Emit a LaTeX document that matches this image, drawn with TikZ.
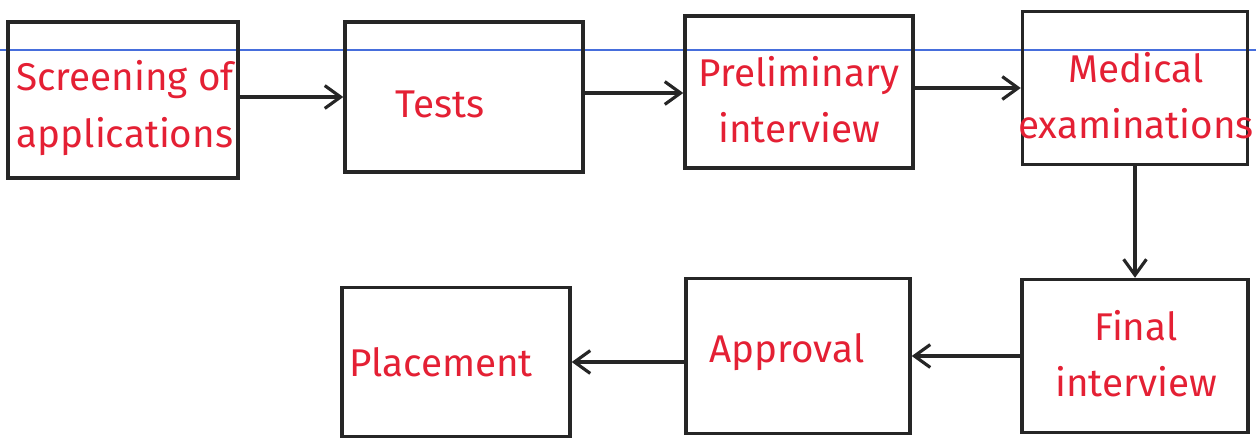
\documentclass[tikz,border=0pt]{standalone}
\usepackage{fontspec}
\setmainfont{Fira Sans}
\usetikzlibrary{arrows.meta}
\definecolor{ink}{RGB}{228,32,52}
\definecolor{rule}{RGB}{70,110,220}
\begin{document}
\begin{tikzpicture}[x=0.02cm,y=-0.02cm,
  stagebox/.style={draw=black!85,line width=2pt,inner sep=0pt},
  stagetext/.style={text=ink,align=center,inner sep=0pt,
    font=\fontsize{22}{32}\selectfont},
  flow/.style={draw=black!85,line width=1.8pt,-{Straight Barb[length=9pt,width=13pt,line width=1.8pt]}}]
\useasboundingbox (0,0) rectangle (1256,439);
% ruled line of the paper
\draw[rule,line width=0.8pt] (0,50) -- (1256,50);
% stages, top row
\node[stagebox,minimum width=4.6cm,minimum height=3.12cm] (screen) at (123,100) {};
\node[stagebox,minimum width=4.76cm,minimum height=3cm] (tests) at (464,97) {};
\node[stagebox,minimum width=4.56cm,minimum height=3.04cm] (prelim) at (799,92) {};
\node[stagebox,minimum width=4.5cm,minimum height=3.06cm] (medical) at (1135,88) {};
% stages, bottom row
\node[stagebox,minimum width=4.52cm,minimum height=3.06cm] (final) at (1135,356) {};
\node[stagebox,minimum width=4.48cm,minimum height=3.1cm] (approval) at (798,356) {};
\node[stagebox,minimum width=4.56cm,minimum height=2.98cm] (placement) at (456,362) {};
% labels
\node[stagetext] (screentxt) at (125,108) {Screening of\\applications};
\node[stagetext] (teststxt) at (440,104) {Tests};
\node[stagetext] (prelimtxt) at (799,100) {Preliminary\\interview};
\node[stagetext] (medicaltxt) at (1136,96) {Medical\\examinations};
\node[stagetext] (finaltxt) at (1136,354) {Final\\interview};
\node[stagetext] (approvaltxt) at (787,352) {Approval};
\node[stagetext] (placementtxt) at (441,362) {Placement};
% connectors
\draw[flow] (screen.east |- 0,97) -- (tests.west |- 0,97);
\draw[flow] (tests.east |- 0,93) -- (prelim.west |- 0,93);
\draw[flow] (prelim.east |- 0,88) -- (medical.west |- 0,88);
\draw[flow] (medical.south) -- (final.north);
\draw[flow] (final.west) -- (approval.east);
\draw[flow] (approval.west |- 0,362) -- (placement.east);
\end{tikzpicture}
\end{document}
